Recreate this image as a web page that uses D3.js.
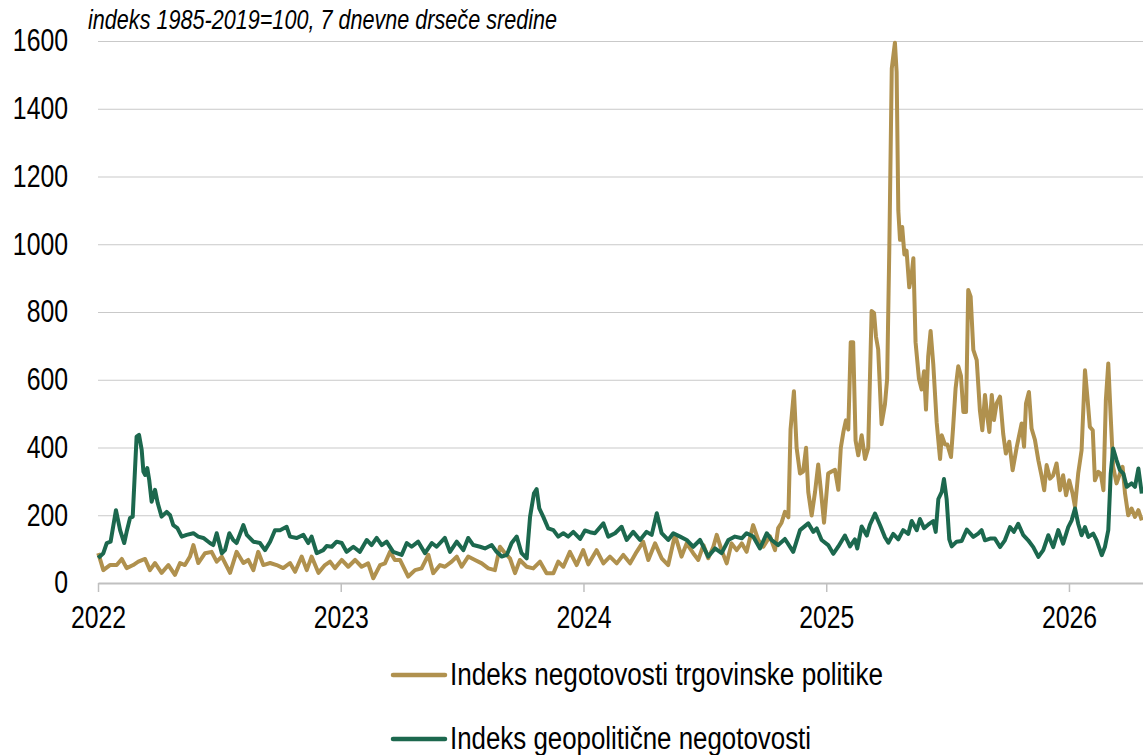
<!DOCTYPE html>
<html>
<head>
<meta charset="utf-8">
<script src="https://cdn.jsdelivr.net/npm/d3@7"></script>
<style>
  body { margin: 0; background: #fff; }
  svg text { font-family: 'Liberation Sans', Arial, sans-serif; fill: #000; }
</style>
</head>
<body>
<div id="chart"></div>
<script>
'use strict';

var subtitle = 'indeks 1985-2019=100, 7 dnevne drseče sredine';
var seriesNames = ['Indeks negotovosti trgovinske politike', 'Indeks geopolitične negotovosti'];
var seriesColors = ['#b0914e', '#1c684e'];
var yTicks = [0, 200, 400, 600, 800, 1000, 1200, 1400, 1600];
var xTicks = [2022, 2023, 2024, 2025, 2026];

// [decimal year, index value]
var tradeIdx = [[2022.001,88],[2022.022,38],[2022.049,53],[2022.077,53],[2022.098,71],[2022.118,44],[2022.145,53],[2022.166,63],[2022.194,71],[2022.214,38],[2022.235,59],[2022.262,30],[2022.290,53],[2022.317,24],[2022.338,59],[2022.358,53],[2022.379,78],[2022.393,112],[2022.413,59],[2022.441,88],[2022.468,92],[2022.489,63],[2022.510,78],[2022.544,30],[2022.571,92],[2022.599,59],[2022.619,68],[2022.640,38],[2022.660,92],[2022.681,53],[2022.709,59],[2022.736,53],[2022.763,44],[2022.791,59],[2022.812,33],[2022.839,78],[2022.860,38],[2022.880,78],[2022.908,30],[2022.935,53],[2022.956,63],[2022.976,44],
  [2023.004,68],[2023.031,48],[2023.059,68],[2023.086,48],[2023.113,58],[2023.134,14],[2023.162,53],[2023.182,58],[2023.203,92],[2023.223,68],[2023.244,68],[2023.278,19],[2023.306,38],[2023.333,43],[2023.361,83],[2023.381,29],[2023.409,53],[2023.429,48],[2023.457,63],[2023.478,78],[2023.498,48],[2023.525,78],[2023.553,68],[2023.581,58],[2023.608,43],[2023.635,38],[2023.656,107],[2023.677,88],[2023.697,73],[2023.718,29],[2023.738,68],[2023.766,48],[2023.793,43],[2023.821,63],[2023.848,29],[2023.876,29],[2023.896,63],[2023.917,48],[2023.944,92],[2023.972,53],[2023.999,97],
  [2024.020,55],[2024.054,97],[2024.082,58],[2024.109,78],[2024.137,58],[2024.164,83],[2024.192,58],[2024.219,92],[2024.246,122],[2024.267,68],[2024.295,117],[2024.322,73],[2024.349,53],[2024.377,142],[2024.404,78],[2024.425,117],[2024.452,88],[2024.473,68],[2024.494,112],[2024.514,73],[2024.535,107],[2024.549,142],[2024.569,97],[2024.590,58],[2024.610,117],[2024.631,97],[2024.652,117],[2024.672,92],[2024.699,171],[2024.720,127],[2024.741,107],[2024.768,138],[2024.789,97],[2024.802,162],[2024.816,178],[2024.830,210],[2024.844,194],[2024.853,453],[2024.867,566],[2024.878,399],[2024.892,323],[2024.905,329],[2024.917,399],[2024.926,269],[2024.940,199],[2024.954,269],[2024.967,350],[2024.977,280],[2024.991,178],
  [2025.008,323],[2025.022,329],[2025.036,334],[2025.050,275],[2025.060,399],[2025.071,447],[2025.081,480],[2025.091,453],[2025.101,711],[2025.111,711],[2025.121,420],[2025.132,377],[2025.146,436],[2025.160,366],[2025.173,399],[2025.187,803],[2025.197,797],[2025.205,727],[2025.214,690],[2025.228,469],[2025.242,528],[2025.251,603],[2025.260,991],[2025.270,1519],[2025.283,1595],[2025.290,1509],[2025.297,1099],[2025.304,1013],[2025.313,1051],[2025.322,970],[2025.331,981],[2025.342,873],[2025.352,911],[2025.359,959],[2025.368,711],[2025.382,603],[2025.393,571],[2025.403,625],[2025.411,512],[2025.420,668],[2025.430,744],[2025.441,646],[2025.455,474],[2025.469,366],[2025.476,436],[2025.489,409],[2025.499,409],[2025.514,372],[2025.523,462],[2025.533,575],[2025.544,640],[2025.555,612],[2025.565,505],[2025.576,505],[2025.585,865],[2025.595,845],[2025.606,688],[2025.620,658],[2025.633,510],[2025.643,451],[2025.654,555],[2025.663,495],[2025.672,446],[2025.682,555],[2025.691,481],[2025.702,530],[2025.716,550],[2025.729,441],[2025.740,382],[2025.754,417],[2025.768,333],[2025.785,402],[2025.805,471],[2025.815,402],[2025.823,530],[2025.835,564],[2025.846,456],[2025.860,422],[2025.874,362],[2025.888,313],[2025.898,274],[2025.908,348],[2025.922,308],[2025.935,318],[2025.949,353],[2025.963,274],[2025.976,318],[2025.988,259],
  [2026.001,303],[2026.015,264],[2026.025,225],[2026.038,323],[2026.052,392],[2026.066,628],[2026.077,540],[2026.086,461],[2026.098,451],[2026.107,303],[2026.121,328],[2026.131,323],[2026.142,274],[2026.152,540],[2026.162,648],[2026.172,490],[2026.182,343],[2026.196,294],[2026.210,323],[2026.221,343],[2026.231,264],[2026.244,200],[2026.258,220],[2026.272,195],[2026.286,215],[2026.300,185]];

var geoIdx = [[2022.001,74],[2022.022,88],[2022.036,118],[2022.052,122],[2022.074,215],[2022.091,156],[2022.108,118],[2022.118,151],[2022.132,192],[2022.143,196],[2022.159,432],[2022.169,437],[2022.180,393],[2022.187,329],[2022.194,319],[2022.203,339],[2022.211,304],[2022.221,240],[2022.235,275],[2022.246,236],[2022.262,196],[2022.283,210],[2022.297,200],[2022.310,171],[2022.327,162],[2022.345,137],[2022.365,142],[2022.393,147],[2022.413,137],[2022.434,133],[2022.461,118],[2022.475,112],[2022.489,147],[2022.510,88],[2022.523,97],[2022.541,147],[2022.557,127],[2022.571,118],[2022.599,171],[2022.613,142],[2022.640,122],[2022.667,118],[2022.688,97],[2022.709,122],[2022.729,156],[2022.750,156],[2022.777,166],[2022.791,137],[2022.819,133],[2022.846,142],[2022.866,118],[2022.880,137],[2022.901,88],[2022.928,97],[2022.942,109],[2022.963,107],[2022.983,122],
  [2023.004,118],[2023.024,92],[2023.052,107],[2023.079,92],[2023.107,127],[2023.127,112],[2023.148,133],[2023.169,112],[2023.189,122],[2023.216,92],[2023.251,83],[2023.272,118],[2023.292,107],[2023.319,122],[2023.347,88],[2023.375,118],[2023.395,107],[2023.429,133],[2023.450,92],[2023.478,122],[2023.505,97],[2023.525,133],[2023.546,112],[2023.574,107],[2023.594,102],[2023.622,112],[2023.642,92],[2023.663,78],[2023.684,83],[2023.704,118],[2023.725,137],[2023.745,88],[2023.766,73],[2023.780,196],[2023.796,265],[2023.807,277],[2023.818,220],[2023.834,196],[2023.855,161],[2023.876,156],[2023.896,137],[2023.917,147],[2023.937,137],[2023.958,151],[2023.986,130],
  [2024.006,155],[2024.027,150],[2024.047,147],[2024.082,176],[2024.102,137],[2024.130,147],[2024.157,166],[2024.178,127],[2024.205,151],[2024.233,127],[2024.260,151],[2024.281,142],[2024.302,206],[2024.322,147],[2024.349,127],[2024.370,147],[2024.398,137],[2024.425,127],[2024.452,107],[2024.480,127],[2024.514,78],[2024.542,102],[2024.569,88],[2024.597,127],[2024.624,137],[2024.652,132],[2024.672,147],[2024.699,137],[2024.727,102],[2024.755,147],[2024.775,127],[2024.802,112],[2024.830,130],[2024.864,92],[2024.892,156],[2024.926,176],[2024.947,151],[2024.961,161],[2024.981,127],
  [2025.008,112],[2025.029,86],[2025.050,108],[2025.077,140],[2025.098,108],[2025.118,129],[2025.128,102],[2025.146,167],[2025.167,140],[2025.180,172],[2025.201,205],[2025.221,172],[2025.242,135],[2025.256,119],[2025.276,145],[2025.297,129],[2025.317,156],[2025.338,145],[2025.352,183],[2025.373,156],[2025.386,189],[2025.403,162],[2025.420,172],[2025.441,183],[2025.451,151],[2025.462,248],[2025.476,269],[2025.485,307],[2025.496,248],[2025.507,129],[2025.517,108],[2025.537,122],[2025.558,124],[2025.579,158],[2025.606,136],[2025.626,146],[2025.640,156],[2025.654,126],[2025.675,131],[2025.695,131],[2025.716,106],[2025.736,126],[2025.757,165],[2025.773,151],[2025.791,175],[2025.812,141],[2025.832,126],[2025.853,106],[2025.874,77],[2025.894,97],[2025.915,141],[2025.935,106],[2025.956,156],[2025.976,116],[2025.997,165],
  [2026.011,185],[2026.025,220],[2026.038,175],[2026.052,141],[2026.066,165],[2026.080,136],[2026.100,146],[2026.114,126],[2026.135,82],[2026.148,106],[2026.162,156],[2026.172,323],[2026.182,397],[2026.196,363],[2026.210,333],[2026.224,323],[2026.238,284],[2026.258,294],[2026.272,284],[2026.286,338],[2026.300,264]];

var margin = {top: 41, right: 0, bottom: 172, left: 98};
var width = 1143 - margin.left - margin.right;
var height = 755 - margin.top - margin.bottom;
var squeeze = 0.8; // labels in the original use a narrow face

var svg = d3.select('#chart').append('svg')
  .attr('width', 1143)
  .attr('height', 755);

var g = svg.append('g')
  .attr('transform', 'translate(' + margin.left + ',' + margin.top + ')');

var x = d3.scaleLinear()
  .domain([2022, 2026.305])
  .range([0, width]);

var y = d3.scaleLinear()
  .domain([0, 1600])
  .range([height, 0]);

// gridlines + y labels
var yAxis = g.append('g')
  .attr('class', 'y-axis')
  .call(d3.axisLeft(y).tickValues(yTicks).tickFormat(d3.format('d')).tickSize(-width).tickPadding(0));

yAxis.attr('font-size', null).attr('font-family', null);
yAxis.select('.domain').remove();
yAxis.selectAll('.tick line')
  .attr('stroke', '#c9c9c9')
  .attr('stroke-width', 1.2);
yAxis.selectAll('.tick text')
  .attr('x', -30 / squeeze)
  .attr('transform', 'scale(' + squeeze + ',1)')
  .style('font-size', '31px');

// x axis
var xAxis = g.append('g')
  .attr('class', 'x-axis')
  .attr('transform', 'translate(0,' + height + ')')
  .call(d3.axisBottom(x).tickValues(xTicks).tickFormat(d3.format('d')).tickSize(9).tickSizeOuter(0).tickPadding(14));

xAxis.attr('font-size', null).attr('font-family', null);
xAxis.select('.domain')
  .attr('stroke', '#c0c0c0')
  .attr('stroke-width', 2);
xAxis.selectAll('.tick line')
  .attr('stroke', '#c0c0c0')
  .attr('stroke-width', 1.5);
xAxis.selectAll('.tick text')
  .attr('transform', 'scale(' + squeeze + ',1)')
  .style('font-size', '31px');

var line = d3.line()
  .x(function(d) { return x(d[0]); })
  .y(function(d) { return y(d[1]); });

var series = [tradeIdx, geoIdx];

g.selectAll('.series')
  .data(series)
  .enter()
  .append('path')
  .attr('class', 'series')
  .attr('d', line)
  .attr('fill', 'none')
  .attr('stroke', function(d, i) { return seriesColors[i]; })
  .attr('stroke-width', 4)
  .attr('stroke-linejoin', 'round');

// subtitle
svg.append('text')
  .attr('x', 88)
  .attr('y', 29)
  .attr('textLength', 469)
  .attr('lengthAdjust', 'spacingAndGlyphs')
  .style('font-size', '27px')
  .style('font-style', 'italic')
  .text(subtitle);

// legend
var legendY = [675, 739];
var legendW = [433, 361];

var legend = svg.selectAll('.legend')
  .data(seriesNames)
  .enter()
  .append('g')
  .attr('class', 'legend')
  .attr('transform', function(d, i) { return 'translate(392,' + legendY[i] + ')'; });

legend.append('line')
  .attr('x1', 1)
  .attr('x2', 53)
  .attr('stroke', function(d, i) { return seriesColors[i]; })
  .attr('stroke-width', 4.5)
  .attr('stroke-linecap', 'round');

legend.append('text')
  .attr('x', 58)
  .attr('dy', '0.33em')
  .attr('textLength', function(d, i) { return legendW[i]; })
  .attr('lengthAdjust', 'spacingAndGlyphs')
  .style('font-size', '31px')
  .text(function(d) { return d; });
</script>
</body>
</html>
